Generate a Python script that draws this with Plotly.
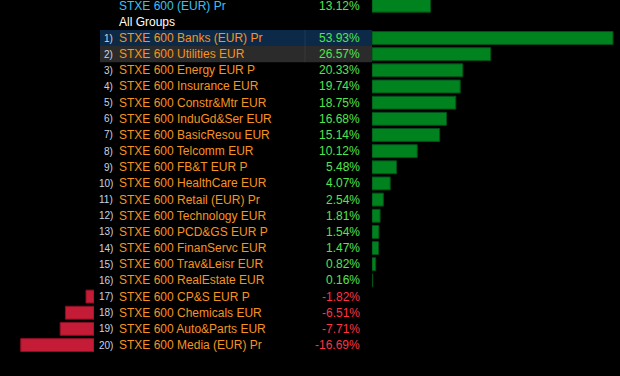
import plotly.graph_objects as go

index_name = "STXE 600 (EUR) Pr"
index_value = 13.12
group_header = "All Groups"

names = [
    "STXE 600 Banks (EUR) Pr", "STXE 600 Utilities EUR", "STXE 600 Energy EUR P",
    "STXE 600 Insurance EUR", "STXE 600 Constr&Mtr EUR", "STXE 600 InduGd&Ser EUR",
    "STXE 600 BasicResou EUR", "STXE 600 Telcomm EUR", "STXE 600 FB&T EUR P",
    "STXE 600 HealthCare EUR", "STXE 600 Retail (EUR) Pr", "STXE 600 Technology EUR",
    "STXE 600 PCD&GS EUR P", "STXE 600 FinanServc EUR", "STXE 600 Trav&Leisr EUR",
    "STXE 600 RealEstate EUR", "STXE 600 CP&S EUR P", "STXE 600 Chemicals EUR",
    "STXE 600 Auto&Parts EUR", "STXE 600 Media (EUR) Pr",
]
values = [53.93, 26.57, 20.33, 19.74, 18.75, 16.68, 15.14, 10.12, 5.48, 4.07,
          2.54, 1.81, 1.54, 1.47, 0.82, 0.16, -1.82, -6.51, -7.71, -16.69]
ranks = [f"{i + 1})" for i in range(len(names))]

W, H = 620, 376
ROW_PX = 16.16
ROW0_PX = 38.0
y_top = -ROW0_PX / ROW_PX
y_bot = (H - ROW0_PX) / ROW_PX

rows = list(range(len(names)))
hdr_row, grp_row = -2, -1

GREEN = "#00821f"
GREEN_LINE = "#00501a"
RED = "#c41b36"
RED_LINE = "#8a0f22"
ORANGE = "#f7931e"
GREEN_TXT = "#50e650"
RED_TXT = "#ff3344"
CYAN = "#3cc0ef"

FONT = "Liberation Sans"
FS = 12

fig = go.Figure()

pos_y = [r for r, v in zip(rows, values) if v >= 0]
pos_x = [v for v in values if v >= 0]
neg_y = [r for r, v in zip(rows, values) if v < 0]
neg_x = [v for v in values if v < 0]

fig.add_trace(go.Bar(
    y=[hdr_row] + pos_y, x=[index_value] + pos_x, orientation="h",
    xaxis="x2", yaxis="y", width=0.8,
    marker=dict(color=GREEN, line=dict(color=GREEN_LINE, width=1)),
    hoverinfo="skip", showlegend=False,
))
fig.add_trace(go.Bar(
    y=neg_y, x=neg_x, orientation="h",
    xaxis="x", yaxis="y", width=0.8,
    marker=dict(color=RED, line=dict(color=RED_LINE, width=1)),
    hoverinfo="skip", showlegend=False,
))

shapes = []
for r, col in [(0, "#0c2a47"), (1, "#2b2b2b")]:
    shapes.append(dict(type="rect", xref="paper", yref="y",
                       x0=100 / W, x1=372 / W, y0=r - 0.5, y1=r + 0.5,
                       fillcolor=col, line=dict(width=0), layer="below"))
    shapes.append(dict(type="line", xref="paper", yref="y",
                       x0=305 / W, x1=305 / W, y0=r - 0.5, y1=r + 0.5,
                       line=dict(color="#1d3b58" if r == 0 else "#383838", width=1),
                       layer="below"))

annotations = []
annotations.append(dict(xref="paper", yref="y", x=117 / W, y=hdr_row, text=index_name,
                        showarrow=False, xanchor="left", yanchor="middle",
                        font=dict(family=FONT, size=FS, color=CYAN)))
annotations.append(dict(xref="paper", yref="y", x=362 / W, y=hdr_row,
                        text=f"{index_value:.2f}%", showarrow=False, xanchor="right",
                        yanchor="middle", font=dict(family=FONT, size=FS, color=GREEN_TXT)))
annotations.append(dict(xref="paper", yref="y", x=117 / W, y=grp_row, text=group_header,
                        showarrow=False, xanchor="left", yanchor="middle",
                        font=dict(family=FONT, size=FS, color="#ffffff")))
for r, n, v, k in zip(rows, names, values, ranks):
    annotations.append(dict(xref="paper", yref="y", x=115 / W, y=r, text=k,
                            showarrow=False, xanchor="right", yanchor="middle",
                            font=dict(family="Liberation Sans Narrow, " + FONT, size=10,
                                      color="#c9d5e3")))
    annotations.append(dict(xref="paper", yref="y", x=117 / W, y=r, text=n,
                            showarrow=False, xanchor="left", yanchor="middle",
                            font=dict(family=FONT, size=FS, color=ORANGE)))
    annotations.append(dict(xref="paper", yref="y", x=362 / W, y=r, text=f"{v:.2f}%",
                            showarrow=False, xanchor="right", yanchor="middle",
                            font=dict(family=FONT, size=FS,
                                      color=GREEN_TXT if v >= 0 else RED_TXT)))

PX_POS = 241 / 53.93
PX_NEG = 4.39

fig.update_layout(
    width=W, height=H,
    margin=dict(l=0, r=0, t=0, b=0),
    paper_bgcolor="#000000", plot_bgcolor="#000000",
    barmode="overlay",
    xaxis=dict(domain=[0, 94 / W], range=[-94 / PX_NEG, 0], visible=False, fixedrange=True),
    xaxis2=dict(domain=[372 / W, 1], range=[0, (W - 372) / PX_POS], visible=False,
                fixedrange=True, anchor="y"),
    yaxis=dict(range=[y_bot, y_top], visible=False, fixedrange=True),
    shapes=shapes,
    annotations=annotations,
)

fig.write_html(
    "out.html",
    config={"displayModeBar": False},
    post_script="document.body.style.margin='0';document.body.style.background='#000';",
)
